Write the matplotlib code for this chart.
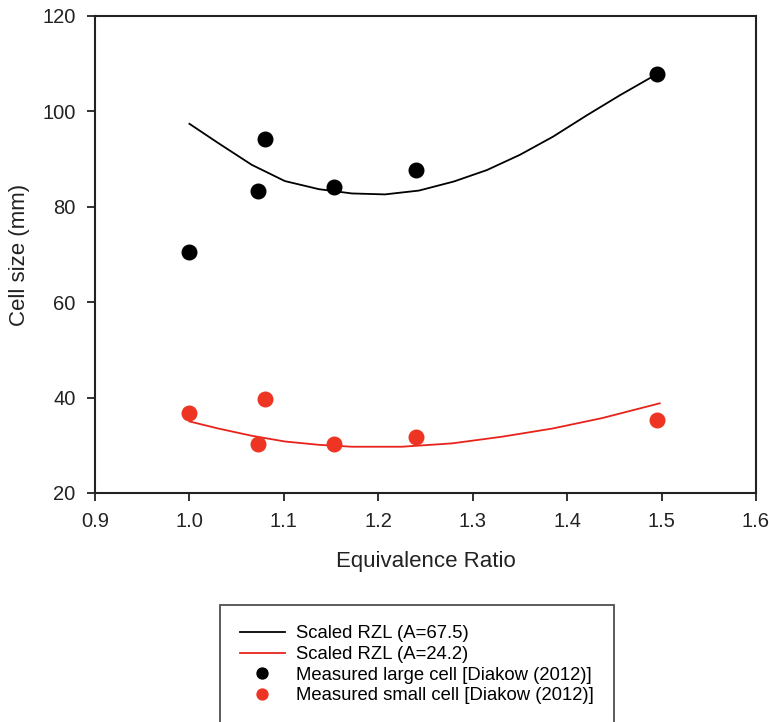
import matplotlib
matplotlib.use('Agg')
import matplotlib.pyplot as plt

plt.rcParams['font.family'] = ['Liberation Sans', 'DejaVu Sans']

# measured cell sizes
phi_meas = [1.0, 1.073, 1.08, 1.153, 1.24, 1.495]
large_cell = [70.5, 83.3, 94.2, 84.1, 87.7, 107.8]
small_cell = [36.8, 30.3, 39.7, 30.3, 31.7, 35.3]

# scaled RZL curves
phi_large = [1.0, 1.031, 1.066, 1.101, 1.137, 1.172, 1.207, 1.243,
             1.280, 1.315, 1.350, 1.385, 1.421, 1.456, 1.494]
rzl_large = [97.4, 93.3, 88.8, 85.4, 83.7, 82.8, 82.6, 83.4,
             85.3, 87.7, 90.9, 94.7, 99.2, 103.4, 107.7]
phi_small = [1.0, 1.031, 1.066, 1.101, 1.137, 1.172, 1.225, 1.278,
             1.331, 1.384, 1.437, 1.498]
rzl_small = [35.0, 33.5, 32.0, 30.8, 30.1, 29.7, 29.7, 30.4,
             31.8, 33.5, 35.7, 38.8]

fig = plt.figure(figsize=(7.69, 7.22), dpi=100)
ax = fig.add_axes([95/769, 229/722, 661/769, 477/722])

ax.plot(phi_large, rzl_large, color='black', lw=1.3, label='Scaled RZL (A=67.5)')
ax.plot(phi_small, rzl_small, color='#e8231b', lw=1.3, label='Scaled RZL (A=24.2)')
ax.plot(phi_meas, large_cell, 'o', color='black', ms=10.5, ls='none',
        label='Measured large cell [Diakow (2012)]')
ax.plot(phi_meas, small_cell, 'o', color='#ee3524', ms=10.5, ls='none',
        label='Measured small cell [Diakow (2012)]')

ax.set_xlim(0.9, 1.6)
ax.set_ylim(20, 120)
ax.set_xticks([0.9, 1.0, 1.1, 1.2, 1.3, 1.4, 1.5, 1.6])
ax.set_xticklabels(['0.9', '1.0', '1.1', '1.2', '1.3', '1.4', '1.5', '1.6'])
ax.set_yticks([20, 40, 60, 80, 100, 120])
ax.tick_params(direction='out', length=6, width=1.3, labelsize=14.5, pad=8, colors='#222222')
for s in ax.spines.values():
    s.set_linewidth(1.5)
    s.set_color('#222222')

ax.set_xlabel('Equivalence Ratio', fontsize=16, labelpad=14, color='#222222')
ax.set_ylabel('Cell size (mm)', fontsize=16, labelpad=9, color='#222222')

leg = fig.legend(loc='upper left', bbox_to_anchor=(220/769, 1 - 605/722),
                 fontsize=13.3, frameon=True, fancybox=False, edgecolor='#222222',
                 borderpad=1.1, labelspacing=0.2, handlelength=2.4,
                 handletextpad=0.6, borderaxespad=0, markerscale=0.75)
leg.get_frame().set_linewidth(1.3)

fig.savefig('out.png', dpi=100)
